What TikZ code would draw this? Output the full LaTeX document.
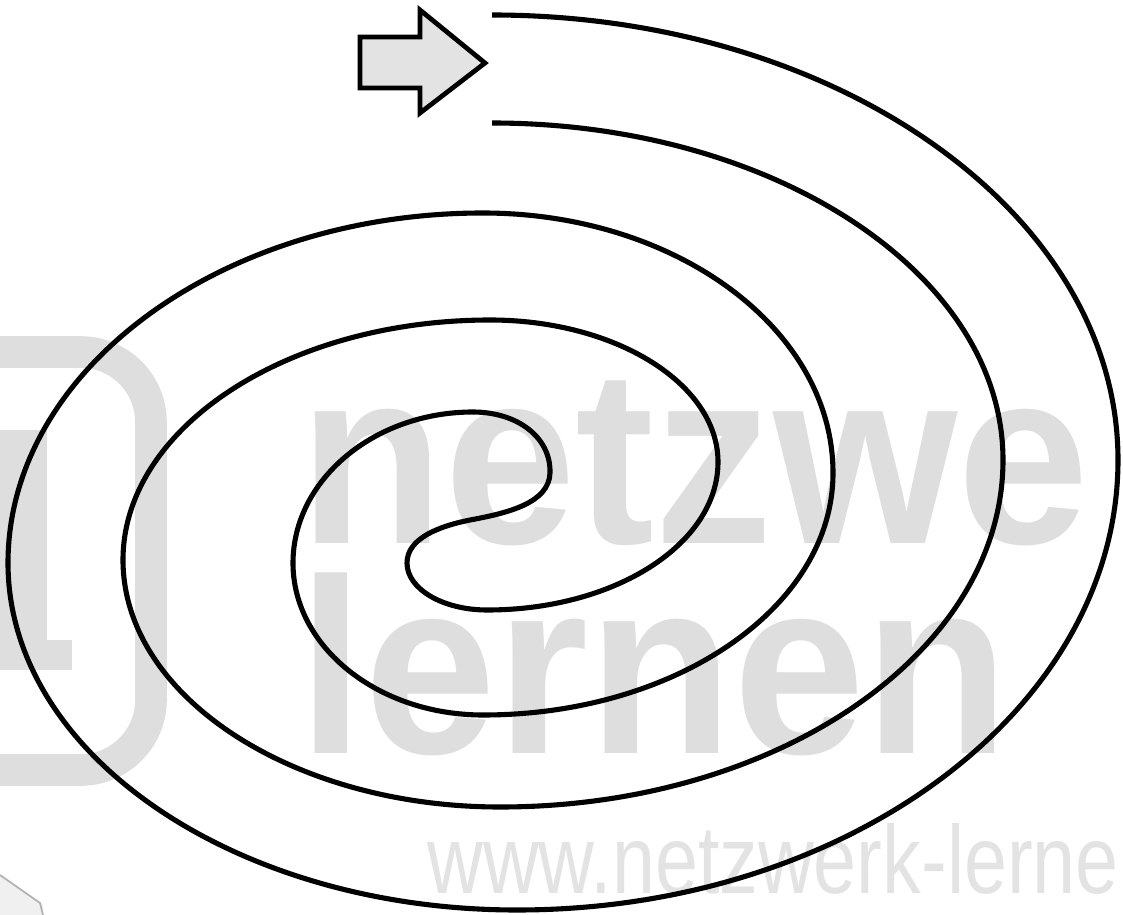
\documentclass[tikz,border=0pt]{standalone}
\usepackage{fontspec}
\setmainfont{Liberation Sans}
\newfontfamily\markfont[FakeStretch=0.95]{Liberation Sans Bold}
\newfontfamily\urlfont[FakeStretch=0.8]{Liberation Sans}
\usepackage{xcolor}

\definecolor{markgray}{gray}{0.87}
\definecolor{urlgray}{gray}{0.89}
\definecolor{arrowfill}{gray}{0.89}

\begin{document}
\begin{tikzpicture}[
    x=0.02cm, y=-0.02cm,
    wall/.style={line width=2.9pt, black, line join=round},
    big mark/.style={markgray, inner sep=0pt, anchor=base west, font=\markfont\fontsize{142}{142}\selectfont},
    url mark/.style={urlgray, inner sep=0pt, anchor=base west, font=\urlfont\fontsize{55}{55}\selectfont},
    start arrow/.style={fill=arrowfill, draw=black, line width=2.7pt, line join=miter}
]
    \useasboundingbox (0,0) rectangle (1123,915);

    % Watermark
    \draw[markgray, line width=18pt, rounded corners=40pt] (-30,352) -- (151,352) -- (151,770) -- (-30,770);
    \fill[markgray] (-5,430) rectangle (47,670);
    \fill[markgray] (47,640) rectangle (72,670);
    \fill[gray!12] (0,875) -- (43,905) -- (43,915) -- (0,915) -- cycle;
    \draw[gray!60, line width=1pt] (0,875) -- (40,903) -- (43,915);
    \node[big mark] (netz) at (299,543) {netzwe};
    \node[big mark] (lern) at (298,753) {lernen};
    \node[url mark] (url) at (427,893) {www.netzwerk-lerne};

    % Start arrow
    \draw[start arrow] (360,37) -- (420,37) -- (420,10) -- (485,63) -- (420,113)
        -- (420,88) -- (360,88) -- cycle;

    % Spiral path (outer wall in, inner wall out)
    \coordinate (entry out) at (492,15);
    \coordinate (entry in) at (492,123);
    \draw[wall] (entry out)
        .. controls (838,15) and (1118,214) .. (1118,460)
        .. controls (1118,708) and (849,910) .. (517,910)
        .. controls (236,910) and (8,755) .. (8,563)
        .. controls (8,370) and (221,213) .. (483,213)
        .. controls (676,213) and (833,329) .. (833,473)
        .. controls (833,607) and (676,715) .. (483,715)
        .. controls (378,715) and (293,647) .. (293,563)
        .. controls (293,480) and (374,412) .. (473,412)
        .. controls (517,412) and (551,437) .. (550,473)
        .. controls (549,503) and (508,513) .. (470,520)
        .. controls (440,526) and (407,538) .. (407,563)
        .. controls (407,589) and (443,610) .. (487,610)
        .. controls (615,610) and (718,544) .. (718,462)
        .. controls (718,384) and (616,320) .. (490,320)
        .. controls (287,320) and (123,428) .. (123,560)
        .. controls (123,696) and (292,807) .. (500,807)
        .. controls (778,807) and (1003,652) .. (1003,460)
        .. controls (1003,274) and (774,123) .. (entry in);
\end{tikzpicture}
\end{document}
